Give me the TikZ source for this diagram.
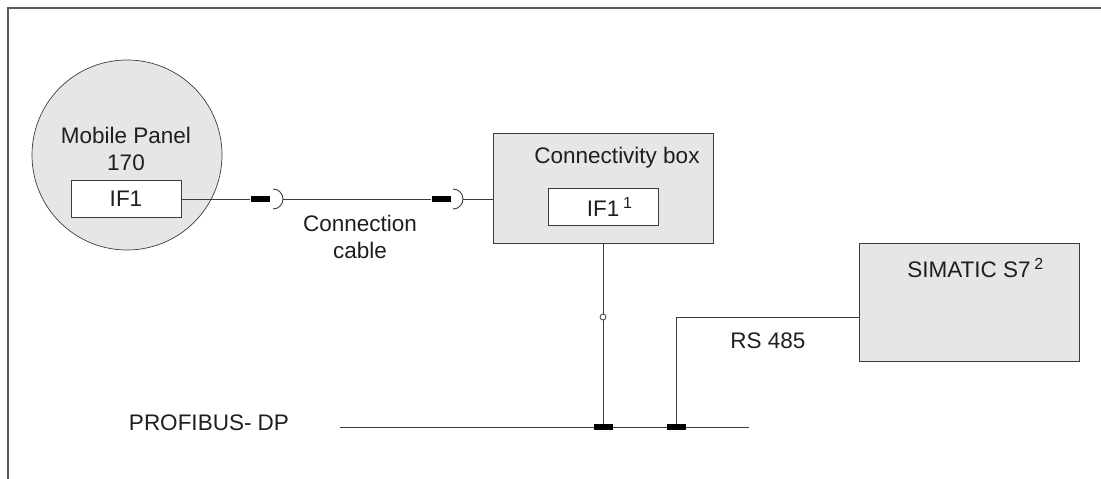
\documentclass[tikz,border=0pt]{standalone}
\usepackage{fontspec}
\setmainfont{Liberation Sans}
\usetikzlibrary{positioning,calc}
\definecolor{boxfill}{RGB}{230,230,230}
\definecolor{edge}{RGB}{60,60,60}
\definecolor{frame}{RGB}{90,90,90}
\definecolor{ink}{RGB}{30,30,30}
\newcommand{\fnmark}[1]{\rlap{\,\raisebox{8pt}{\fontsize{16}{16}\selectfont #1}}}

\begin{document}
\begin{tikzpicture}[x=1pt, y=-1pt, font=\fontsize{22.5}{27}\selectfont, text=ink]
    \tikzset{
        unit/.style={draw=edge, fill=boxfill, line width=1pt, rectangle, inner sep=0pt},
        port/.style={draw=edge, fill=white, line width=1pt, rectangle, inner sep=0pt,
                     minimum width=110, minimum height=37},
        plug/.style={fill=black, rectangle, inner sep=0pt, minimum width=19, minimum height=6},
        wire/.style={draw=edge, line width=0.9pt}
    }
    \useasboundingbox (0,0) rectangle (1101,479);

    % Rahmen
    \draw[frame, line width=2pt] (8,479) -- (8,8) -- (1101,8);

    % =========================================================================
    % MOBILE PANEL
    % =========================================================================
    \node[circle, draw=edge, fill=boxfill, line width=0.7pt, minimum size=190, inner sep=0pt] (panel) at (127,155) {};
    \node[align=center, inner sep=0pt] (panelname) at (126,149) {Mobile Panel\\170};
    \node[port] (panelIF) at (126,199) {IF1};

    % =========================================================================
    % CONNECTIVITY BOX
    % =========================================================================
    \node[unit, minimum width=220, minimum height=110] (cbox) at (603,188) {};
    \node (cboxname) at (617,158) {Connectivity box};
    \node[port] (cboxIF) at (603,207) {IF1\fnmark{1}};

    % =========================================================================
    % SIMATIC S7
    % =========================================================================
    \node[unit, minimum width=220, minimum height=118] (plc) at (969,302) {};
    \node (plcname) at (969,268) {SIMATIC S7\fnmark{2}};

    % =========================================================================
    % KABEL
    % =========================================================================
    \node[plug] (plugA) at (260,199) {};
    \node[plug] (plugB) at (441,199) {};
    \coordinate (sockA) at (273,199);
    \coordinate (sockB) at (453,199);

    \draw[wire] (panelIF.east) -- (plugA.west);
    \draw[wire] (sockA) ++(0,-10) arc (-90:90:10);
    \draw[wire] ($(sockA)+(10,0)$) -- (plugB.west);
    \draw[wire] (sockB) ++(0,-10) arc (-90:90:10);
    \draw[wire] ($(sockB)+(10,0)$) -- (sockB -| cbox.west);

    \node[align=center, inner sep=0pt] (cable) at (360,237) {Connection\\cable};

    % =========================================================================
    % PROFIBUS
    % =========================================================================
    \coordinate (busL) at (340,427);
    \coordinate (busR) at (749,427);
    \draw[wire] (busL) -- (busR);
    \node (bus) at (209,423) {PROFIBUS- DP};

    \node[plug] (tapA) at (603,427) {};
    \node[plug] (tapB) at (676,427) {};

    \draw[wire] (cbox.south) -- (tapA.north);
    \node[circle, draw=edge, fill=white, line width=0.8pt, minimum size=6, inner sep=0pt] (joint) at (603,317) {};

    \coordinate (rsBend) at (676,317);
    \draw[wire] (tapB.north) -- (rsBend) -- (rsBend -| plc.west);
    \node (rs) at (768,341) {RS 485};

\end{tikzpicture}
\end{document}
